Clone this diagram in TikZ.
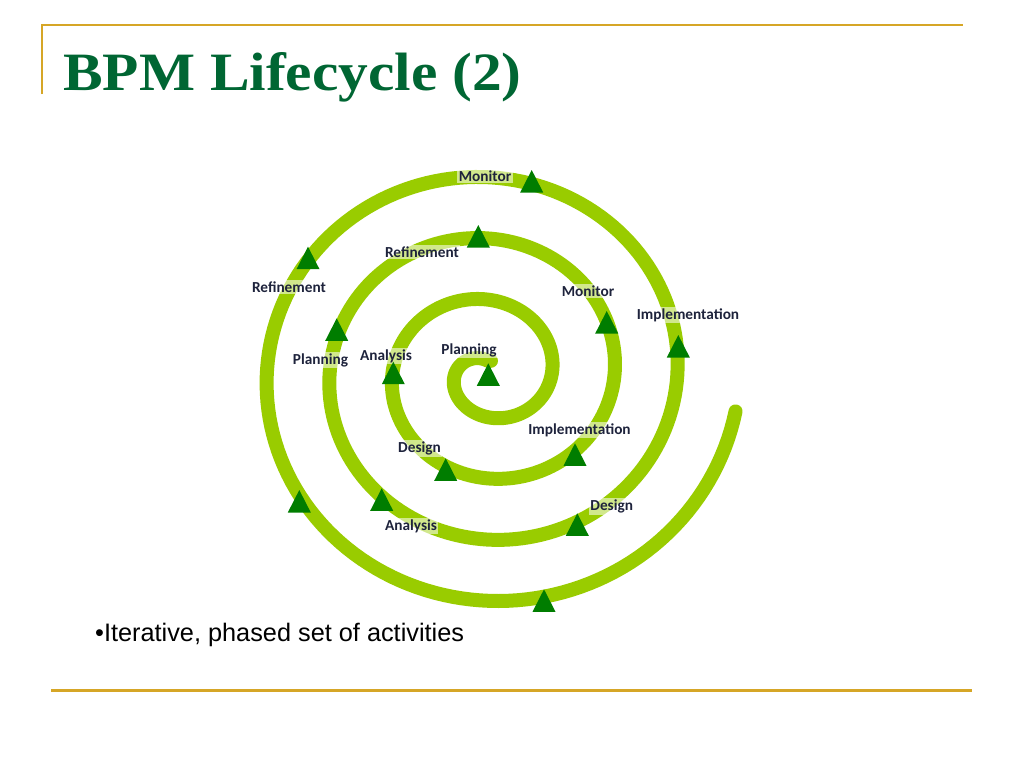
\documentclass[tikz,border=0pt]{standalone}
\usepackage{fontspec}
\usepackage{graphicx}
\setmainfont{Liberation Serif}
\newfontfamily\lblfam{Carlito}
\newfontfamily\bodyfam{Liberation Sans}
\definecolor{lime}{RGB}{153,204,0}
\definecolor{trigreen}{RGB}{0,125,0}
\definecolor{gold}{RGB}{214,166,38}
\definecolor{titlegreen}{RGB}{0,102,51}
\definecolor{lbltext}{RGB}{30,35,60}
\newcommand\greentri[2]{\fill[tri] (#1,#2) -- ++(11.5,22.5) -- ++(-23,0) -- cycle;}
\begin{document}
\begin{tikzpicture}[x=1pt,y=-1pt,
  spiralline/.style={draw=lime, line width=14pt, line cap=round, line join=round},
  lbl/.style={font=\lblfam\bfseries\fontsize{15.3}{18}\selectfont, text=lbltext,
              fill=white, fill opacity=0.55, text opacity=1, inner sep=1.5pt, anchor=base},
  rule/.style={draw=gold, line width=2pt},
  tri/.style={fill=trigreen}]
\useasboundingbox (0,0) rectangle (1024,768);
\fill[white] (0,0) rectangle (1024,768);

% header and footer rules
\draw[rule] (42,94) -- (42,25) -- (963,25);
\draw[rule, line width=2.5pt] (51,690.7) -- (972,690.7);

% title
\node[anchor=base west, inner sep=0pt, text=titlegreen] (title) at (63,90)
  {\scalebox{1.1}[1]{\bfseries\fontsize{54}{60}\selectfont BPM Lifecycle (2)}};

% spiral
\draw[spiralline] (491,360.8) -- plot[domain=90:1431, samples=600, variable=\t]
  ({487.8+(16.9+15.7*((\t-90)/90))*cos(\t)},{373.7-(12.9+15.3*((\t-90)/90))*sin(\t)});

% labels
\node[lbl] (l1)  at (485,181)   {Monitor};
\node[lbl] (l2)  at (422,257)   {Refinement};
\node[lbl] (l3)  at (289,292)   {Refinement};
\node[lbl] (l4)  at (588,296.5) {Monitor};
\node[lbl] (l5)  at (688,319)   {Implementation};
\node[lbl] (l6)  at (320.5,364) {Planning};
\node[lbl] (l7)  at (386,360)   {Analysis};
\node[lbl] (l8)  at (469,354)   {Planning};
\node[lbl] (l9)  at (579.5,434) {Implementation};
\node[lbl] (l10) at (419.5,452.5) {Design};
\node[lbl] (l11) at (611.7,510.5) {Design};
\node[lbl] (l12) at (411,530.5) {Analysis};

% triangles
\greentri{531.7}{170}
\greentri{308}{246.7}
\greentri{478.3}{225}
\greentri{336.7}{318.3}
\greentri{606.7}{311}
\greentri{678.3}{335}
\greentri{393.3}{361.7}
\greentri{488.3}{363.3}
\greentri{445.7}{458.3}
\greentri{575}{443.3}
\greentri{299.3}{490}
\greentri{381.7}{488.3}
\greentri{577.3}{513.3}
\greentri{544}{589.3}

% body text
\node[anchor=base west, inner sep=0pt, font=\bodyfam\fontsize{25.3}{30}\selectfont] (body) at (95,641.7)
  {•Iterative, phased set of activities};
\end{tikzpicture}
\end{document}
